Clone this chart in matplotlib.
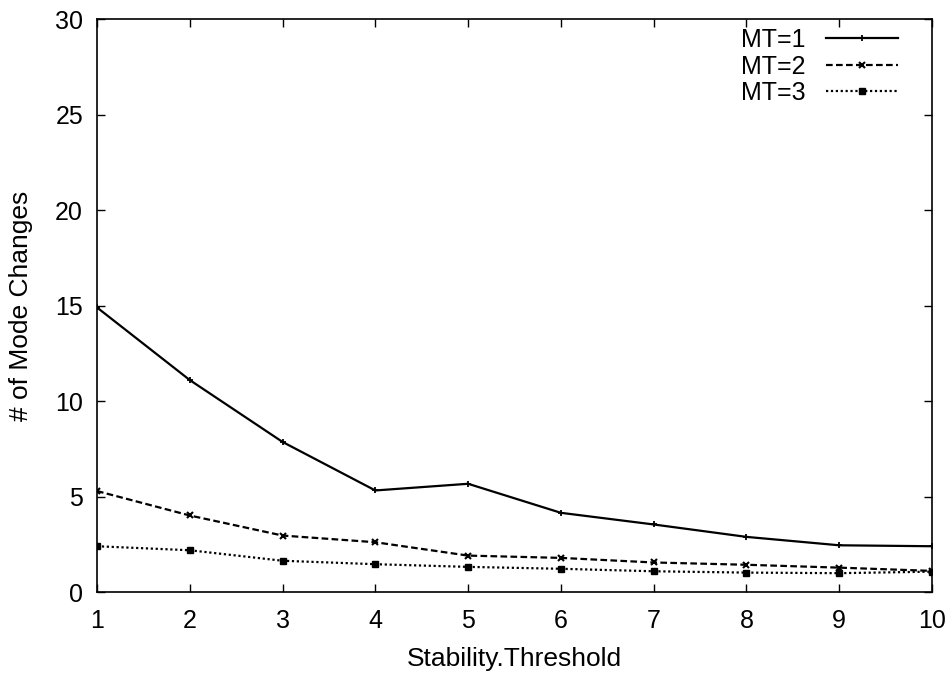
import numpy as np
import matplotlib.pyplot as plt

plt.rcParams['font.family'] = ['Liberation Sans', 'DejaVu Sans']

threshold = [1, 2, 3, 4, 5, 6, 7, 8, 9, 10]
mt1 = [14.9, 11.1, 7.86, 5.32, 5.67, 4.15, 3.54, 2.89, 2.45, 2.40]
mt2 = [5.29, 4.01, 2.96, 2.61, 1.91, 1.79, 1.55, 1.43, 1.28, 1.11]
mt3 = [2.40, 2.19, 1.64, 1.46, 1.32, 1.22, 1.09, 1.02, 0.99, 1.07]

fig = plt.figure(figsize=(9.51, 6.79), dpi=100)
ax = fig.add_axes([0.102, 0.128, 0.878, 0.844])

ax.plot(threshold, mt1, color='black', linestyle='-', linewidth=1.6,
        marker='+', markersize=5, markeredgewidth=1.3, label='MT=1')
ax.plot(threshold, mt2, color='black', linestyle=(0, (3, 1.5)), linewidth=1.6,
        marker='x', markersize=4.5, markeredgewidth=1.5, label='MT=2')
ax.plot(threshold, mt3, color='black', linestyle=(0, (1, 1.2)), linewidth=1.6,
        marker='s', markersize=4, label='MT=3')

ax.set_xlim(1, 10)
ax.set_ylim(0, 30)
ax.set_xticks(np.arange(1, 11))
ax.set_yticks(np.arange(0, 31, 5))
ax.tick_params(direction='in', top=True, right=True, length=6, width=1,
               labelsize=18)
ax.tick_params(axis='y', pad=10)
ax.tick_params(axis='x', pad=12)
for sp in ax.spines.values():
    sp.set_linewidth(1.2)

ax.set_xlabel('Stability.Threshold', fontsize=19, labelpad=10)
ax.set_ylabel('# of Mode Changes', fontsize=19, labelpad=16)

ax.legend(loc='upper right', bbox_to_anchor=(0.959, 0.984), frameon=False,
          markerfirst=False, fontsize=18, handlelength=2.85, labelspacing=0.1,
          borderpad=0, borderaxespad=0, handletextpad=0.85)

fig.savefig('out.png', dpi=100)
